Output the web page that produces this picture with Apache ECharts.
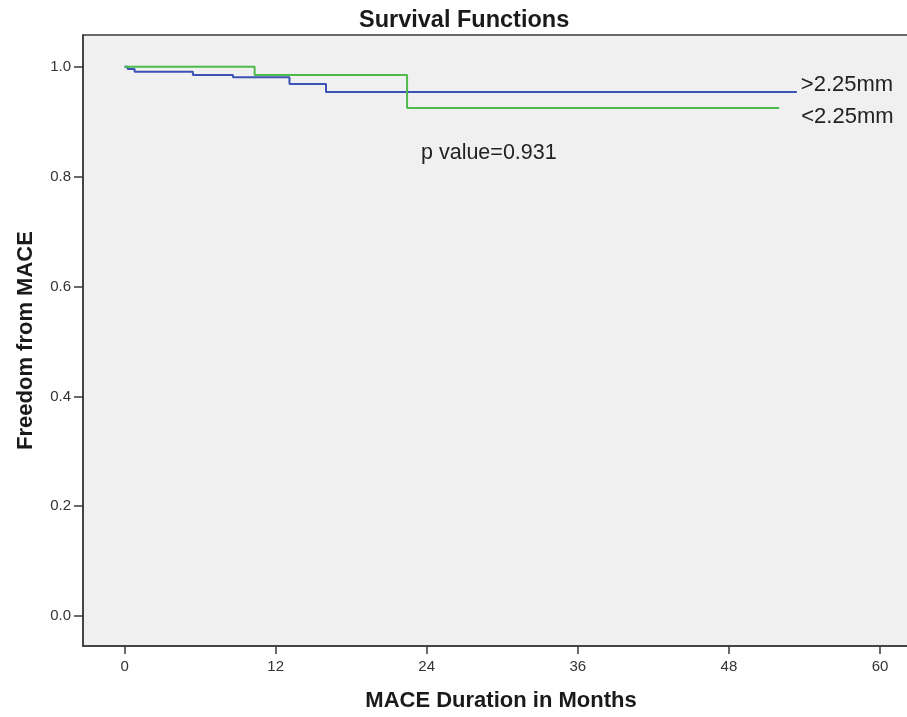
<!DOCTYPE html>
<html>
<head>
<meta charset="utf-8">
<script src="https://cdn.jsdelivr.net/npm/echarts@6/dist/echarts.min.js"></script>
<style>
html,body{margin:0;padding:0;background:#fff;overflow:hidden;width:907px;height:717px;}
#chart{width:925px;height:717px;}
</style>
</head>
<body>
<div id="chart"></div>
<script>
// Kaplan-Meier step data (months, survival)
const blueTimes = [0, 0.25, 0.8, 5.43, 8.61, 13.1, 16.0, 53.4];
const blueSurv  = [1.0, 0.996, 0.991, 0.985, 0.981, 0.969, 0.954, 0.954];
const greenTimes = [0, 10.33, 22.44, 52.0];
const greenSurv  = [1.0, 0.985, 0.925, 0.925];
const xTicks = [0, 12, 24, 36, 48, 60];
const yTicks = [0, 0.2, 0.4, 0.6, 0.8, 1.0];
const blueName = '>2.25mm';
const greenName = '<2.25mm';
const pText = 'p value=0.931';

const FONT = '"Liberation Sans", Arial, sans-serif';
const chart = echarts.init(document.getElementById('chart'), null, {renderer: 'canvas'});

function pairs(xs, ys) { return xs.map((x, i) => [x, ys[i]]); }

chart.setOption({
  animation: false,
  backgroundColor: '#ffffff',
  title: {
    text: 'Survival Functions',
    left: 354, top: 4,
    textStyle: {fontFamily: FONT, fontWeight: 'bold', fontSize: 23.5, color: '#1a1a1a'}
  },
  grid: {
    left: 83, top: 35, bottom: 70, right: 6,
    show: true, backgroundColor: '#f0f0f0', borderColor: '#3a3a3a', borderWidth: 1.5
  },
  xAxis: {
    type: 'value', min: -3.3, max: 63.1,
    name: 'MACE Duration in Months', nameLocation: 'middle', nameGap: 44,
    nameTextStyle: {fontFamily: FONT, fontWeight: 'bold', fontSize: 22, color: '#1a1a1a'},
    axisLine: {show: true, onZero: false, lineStyle: {color: '#3a3a3a', width: 1.5}},
    axisTick: {show: true, customValues: xTicks, length: 8, lineStyle: {color: '#3a3a3a', width: 1.5}},
    axisLabel: {customValues: xTicks, margin: 13, fontFamily: FONT, fontSize: 15, color: '#333'},
    splitLine: {show: false}
  },
  yAxis: {
    type: 'value', min: -0.0545, max: 1.058,
    name: 'Freedom from MACE', nameLocation: 'middle', nameGap: 46,
    nameTextStyle: {fontFamily: FONT, fontWeight: 'bold', fontSize: 22, color: '#1a1a1a'},
    axisLine: {show: true, onZero: false, lineStyle: {color: '#3a3a3a', width: 1.5}},
    axisTick: {show: true, customValues: yTicks, length: 9, lineStyle: {color: '#3a3a3a', width: 1.5}},
    axisLabel: {customValues: yTicks, margin: 12, fontFamily: FONT, fontSize: 15, color: '#333',
      formatter: v => v.toFixed(1)},
    splitLine: {show: false}
  },
  series: [
    {
      type: 'line', name: blueName, step: 'end', showSymbol: false, symbol: 'none',
      data: pairs(blueTimes, blueSurv),
      lineStyle: {color: '#3d52b5', width: 2},
      endLabel: {show: true, formatter: blueName, distance: 4, offset: [0, -7],
        fontFamily: FONT, fontSize: 22, color: '#222'}
    },
    {
      type: 'line', name: greenName, step: 'end', showSymbol: false, symbol: 'none',
      data: pairs(greenTimes, greenSurv),
      lineStyle: {color: '#4cbb4c', width: 2},
      endLabel: {show: true, formatter: greenName, distance: 4, offset: [18, 9],
        fontFamily: FONT, fontSize: 22, color: '#222'}
    }
  ],
  graphic: [
    {type: 'text', left: 421, top: 142,
     style: {text: pText, fontFamily: FONT, fontSize: 21.5, fill: '#222'}}
  ]
});
</script>
</body>
</html>
